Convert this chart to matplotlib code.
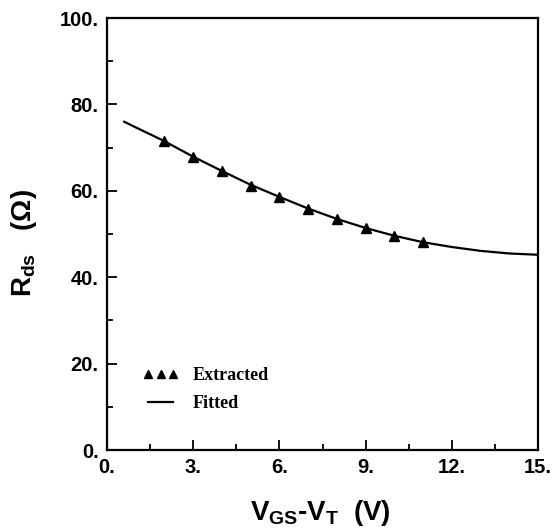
import numpy as np
import matplotlib
matplotlib.use('Agg')
import matplotlib.pyplot as plt
from matplotlib.ticker import MultipleLocator, FormatStrFormatter

plt.rcParams['font.family'] = ['Liberation Sans', 'DejaVu Sans']
plt.rcParams['font.weight'] = 'bold'
plt.rcParams['mathtext.fontset'] = 'custom'
plt.rcParams['mathtext.rm'] = 'Liberation Sans:bold'
plt.rcParams['mathtext.it'] = 'Liberation Sans:bold'
plt.rcParams['mathtext.bf'] = 'Liberation Sans:bold'

# extracted Rds values
vgs_ext = [2, 3, 4, 5, 6, 7, 8, 9, 10, 11]
rds_ext = [71.5, 67.8, 64.5, 61.2, 58.6, 55.9, 53.5, 51.4, 49.6, 48.1]

# fitted curve, sampled off the figure
vgs_fit = [0.6, 1, 2, 3, 4, 5, 6, 7, 8, 9, 10, 11, 12, 13, 14, 15]
rds_fit = [76.0, 74.7, 71.5, 67.9, 64.6, 61.4, 58.6, 55.9, 53.5, 51.4, 49.6, 48.1, 47.0, 46.1, 45.5, 45.2]

fig = plt.figure(figsize=(5.57, 5.31), dpi=100)
ax = fig.add_axes([0.192, 0.1525, 0.774, 0.8135])

ax.plot(vgs_fit, rds_fit, color='black', lw=1.6, label='Fitted')
ax.plot(vgs_ext, rds_ext, ls='none', marker='^', ms=7, color='black', label='Extracted')

ax.set_xlim(0, 15)
ax.set_ylim(0, 100)
ax.xaxis.set_major_locator(MultipleLocator(3))
ax.xaxis.set_minor_locator(MultipleLocator(1.5))
ax.yaxis.set_major_locator(MultipleLocator(20))
ax.yaxis.set_minor_locator(MultipleLocator(10))
ax.xaxis.set_major_formatter(FormatStrFormatter('%d.'))
ax.yaxis.set_major_formatter(FormatStrFormatter('%d.'))
ax.tick_params(which='both', direction='in', top=False, right=False, width=1.3)
ax.tick_params(which='major', length=7, labelsize=14.5, pad=6)
ax.tick_params(which='minor', length=4)
for s in ax.spines.values():
    s.set_linewidth(1.6)

ax.set_xlabel(r'$V_{GS}$-$V_T$  (V)', fontsize=20, fontweight='bold')
ax.set_ylabel(r'$R_{ds}$   ($\Omega$)', fontsize=20, fontweight='bold')
ax.xaxis.set_label_coords(0.495, -0.112)
ax.yaxis.set_label_coords(-0.158, 0.48)

h, l = ax.get_legend_handles_labels()
leg = ax.legend(h[::-1], l[::-1], loc='lower left', bbox_to_anchor=(0.045, 0.05),
                frameon=False, numpoints=3, markerscale=0.8, handlelength=2.0,
                handletextpad=0.75, labelspacing=0.6,
                prop={'family': 'Liberation Serif', 'weight': 'bold', 'size': 13})

fig.savefig('out.png', dpi=100)
